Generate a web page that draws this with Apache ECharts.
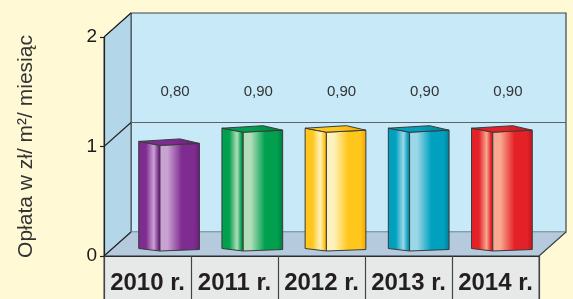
<!DOCTYPE html>
<html>
<head>
<meta charset="utf-8">
<script src="https://cdn.jsdelivr.net/npm/echarts@6/dist/echarts.min.js"></script>
<style>
html,body{margin:0;padding:0;background:#FFF9D6;}
#c{width:573px;height:299px;}
</style>
</head>
<body>
<div id="c"></div>
<script>
const categories = ['2010 r.', '2011 r.', '2012 r.', '2013 r.', '2014 r.'];
const values = [0.80, 0.90, 0.90, 0.90, 0.90];
const yTicks = [0, 1, 2];
const yTitle = 'Opłata w zł/ m²/ miesiąc';
const barColors = [
  ['#6A1E7C', '#7F2C90', '#C9A2D3'],
  ['#007C3E', '#00A04F', '#B2DEBA'],
  ['#F2A700', '#FFC71C', '#FFF2BC'],
  ['#007E98', '#00A1BF', '#9CD7E7'],
  ['#C3151C', '#E52128', '#F8A88F']
];

const X0 = 104, X1 = 539, Y0 = 256, Y2 = 37, DX = 27, DY = -24;
function yv(v) { return Y0 - v * (Y0 - Y2) / 2; }

const chart = echarts.init(document.getElementById('c'), null, {renderer: 'canvas'});

const graphics = [];
graphics.push({type: 'rect', z: 0, shape: {x: X0 + DX, y: Y2 + DY, width: X1 - X0, height: Y0 - Y2},
  style: {fill: '#C7E9F8', stroke: '#3F4548', lineWidth: 1.2}});
graphics.push({type: 'polygon', z: 0, shape: {points: [[X0, Y2], [X0 + DX, Y2 + DY], [X0 + DX, Y0 + DY], [X0, Y0]]},
  style: {fill: '#B3D6E8', stroke: '#3F4548', lineWidth: 1}});
graphics.push({type: 'polygon', z: 0, shape: {points: [[X0, Y0], [X0 + DX, Y0 + DY], [X1 + DX, Y0 + DY], [X1, Y0]]},
  style: {fill: '#B5CADC', stroke: '#8FA3B3', lineWidth: 1}});
graphics.push({type: 'line', z: 0, shape: {x1: X1, y1: Y0, x2: X1 + DX, y2: Y0 + DY}, style: {stroke: '#3F4548', lineWidth: 1.2}});
graphics.push({type: 'line', z: 0, shape: {x1: X0, y1: Y0, x2: X0 + DX, y2: Y0 + DY}, style: {stroke: '#222', lineWidth: 1.2}});
yTicks.forEach(function (t) {
  if (t === 0) return;
  const y = yv(t);
  graphics.push({type: 'line', z: 0, shape: {x1: X0, y1: y, x2: X0 + DX, y2: y + DY}, style: {stroke: '#222', lineWidth: 1.2}});
  if (t !== yTicks[yTicks.length - 1]) {
    graphics.push({type: 'line', z: 0, shape: {x1: X0 + DX, y1: y + DY, x2: X1 + DX, y2: y + DY}, style: {stroke: '#5A6368', lineWidth: 1.2}});
  }
});
graphics.push({type: 'rect', z: 0, shape: {x: X0, y: Y0, width: X1 - X0, height: 50},
  style: {fill: '#E7E9E9', stroke: '#3F4548', lineWidth: 1}});

function renderBar(params, api) {
  const i = api.value(0), v = api.value(1);
  const top = api.coord([i, v]);
  const bot = api.coord([i, 0]);
  const band = api.size([1, 0])[0];
  const w = band * 0.73;
  const c = top[0];
  const L = c - w / 2, R = c + w / 2, D = L + w * 0.35;
  const T = top[1], B = bot[1];
  const col = barColors[i % barColors.length];
  const dark = col[0], base = col[1], light = col[2];
  const G = echarts.graphic.LinearGradient;
  const leftFill = new G(0, 0, 1, 0, [
    {offset: 0, color: base}, {offset: 0.35, color: base}, {offset: 0.7, color: light},
    {offset: 0.9, color: base}, {offset: 1, color: dark}]);
  const rightFill = new G(0, 0, 1, 0, [
    {offset: 0, color: light}, {offset: 0.2, color: light}, {offset: 0.55, color: base},
    {offset: 0.85, color: base}, {offset: 1, color: dark}]);
  const topFill = new G(0, 0, 1, 0, [
    {offset: 0, color: base}, {offset: 0.5, color: base}, {offset: 1, color: dark}]);
  const stroke = {stroke: '#3A3A3A', lineWidth: 1};
  const label = (v.toFixed(2)).replace('.', ',');
  return {
    type: 'group',
    children: [
      {type: 'polygon', shape: {points: [[L, T - 4], [D, T], [D, B], [L, B - 2.5]]},
        style: Object.assign({fill: leftFill}, stroke)},
      {type: 'polygon', shape: {points: [[D, T], [R, T - 2], [R, B - 1.5], [D, B]]},
        style: Object.assign({fill: rightFill}, stroke)},
      {type: 'polygon', shape: {points: [[L, T - 4], [L + w * 0.68, T - 6.5], [R, T - 2], [D, T]]},
        style: Object.assign({fill: topFill}, stroke)},
      {type: 'text', style: {x: c + 6, y: 92, text: label, fill: '#333333',
        font: '15px "Liberation Sans", Arial, sans-serif', textAlign: 'center', textVerticalAlign: 'middle'}}
    ]
  };
}

const option = {
  backgroundColor: '#FFF9D6',
  animation: false,
  graphic: {elements: graphics},
  grid: [
    {left: X0, top: Y2, width: X1 - X0, height: Y0 - Y2},
    {left: 127.5, top: 119, width: 416, height: 132}
  ],
  xAxis: [
    {type: 'category', gridIndex: 0, data: categories, z: 5,
      axisLine: {show: true, lineStyle: {color: '#2A2A2A', width: 1.2}},
      axisTick: {show: true, interval: 0, alignWithLabel: false, length: 44, lineStyle: {color: '#3F4548', width: 1.2}},
      axisLabel: {interval: 0, margin: 15, color: '#231F20', fontSize: 24, fontWeight: 'bold',
        fontFamily: '"Liberation Sans", Arial, sans-serif'}},
    {type: 'category', gridIndex: 1, data: categories, show: false}
  ],
  yAxis: [
    {type: 'value', gridIndex: 0, min: 0, max: 2, interval: 1, z: 5,
      name: yTitle, nameLocation: 'middle', nameGap: 67, nameRotate: 90,
      nameTextStyle: {color: '#333333', fontSize: 21, fontFamily: '"Liberation Sans", Arial, sans-serif'},
      axisLine: {show: true, lineStyle: {color: '#222', width: 1.2}},
      axisTick: {show: true, length: 4, lineStyle: {color: '#222', width: 1.2}},
      axisLabel: {margin: 7, color: '#1A1A1A', fontSize: 19, fontFamily: '"Liberation Sans", Arial, sans-serif'},
      splitLine: {show: false}},
    {type: 'value', gridIndex: 1, min: 0, max: 1, show: false, splitLine: {show: false}}
  ],
  series: [
    {type: 'custom', xAxisIndex: 1, yAxisIndex: 1, z: 3,
      data: values.map(function (v, i) { return [i, v]; }),
      renderItem: renderBar}
  ]
};
chart.setOption(option);
</script>
</body>
</html>
